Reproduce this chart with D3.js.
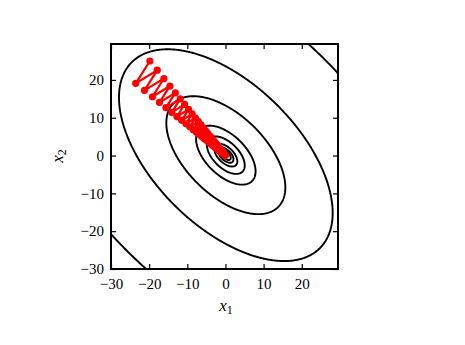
<!DOCTYPE html>
<html>
<head>
<meta charset="utf-8">
<script src="https://cdn.jsdelivr.net/npm/d3@7"></script>
<style>
  body { margin: 0; background: #fff; }
  svg text { font-family: "Liberation Serif", "DejaVu Serif", serif; fill: #000; }
</style>
</head>
<body>
<svg id="chart"></svg>
<script>
// tick labels
const xTicks = [-30, -20, -10, 0, 10, 20];
const yTicks = [-30, -20, -10, 0, 10, 20];
const axisDomain = [-30, 29.5];

// quadratic bowl f(x) = 0.5 * x^T H x and the contour levels drawn
const hessian = [[2.2, 1.2], [1.2, 2.2]];
const levels = [1.3, 3.1, 7, 19, 47, 188, 606, 2230];

// gradient descent iterates
const pathX = [-19.81, -23.52, -17.88, -21.22, -16.13, -19.15, -14.56, -17.29, -13.14, -15.60,
  -11.86, -14.08, -10.71, -12.71, -9.66, -11.47, -8.72, -10.35, -7.87, -9.34,
  -7.10, -8.43, -6.41, -7.60, -5.78, -6.87, -5.22, -6.20, -4.71, -5.59,
  -4.25, -5.04, -3.84, -4.56, -3.47, -4.11, -3.12, -3.71, -2.82, -3.35,
  -2.55, -3.03, -2.30, -2.73, -2.07, -2.46, -1.87, -2.22, -1.69, -2.00,
  -1.52, -1.81, -1.37, -1.63, -1.24, -1.47, -1.12, -1.33, -1.01, -1.20,
  -0.91, -0.93, -0.62, -0.62, -0.37, -0.31, -0.12, 0];
const pathY = [25.01, 19.10, 22.57, 17.23, 20.37, 15.55, 18.38, 14.04, 16.59, 12.66,
  14.97, 11.43, 13.52, 10.32, 12.20, 9.31, 11.01, 8.40, 9.93, 7.59,
  8.97, 6.84, 8.09, 6.17, 7.30, 5.58, 6.59, 5.03, 5.95, 4.54,
  5.37, 4.10, 4.85, 3.70, 4.37, 3.34, 3.94, 3.01, 3.56, 2.72,
  3.21, 2.46, 2.90, 2.22, 2.62, 2.00, 2.36, 1.80, 2.13, 1.63,
  1.92, 1.47, 1.73, 1.32, 1.57, 1.20, 1.41, 1.08, 1.28, 0.98,
  1.15, 0.76, 0.78, 0.50, 0.47, 0.25, 0.16, 0];

const width = 465, height = 345;
const plotLeft = 111, plotRight = 338, plotTop = 44, plotBottom = 269;

const svg = d3.select('#chart')
  .attr('width', width)
  .attr('height', height);

const x = d3.scaleLinear().domain(axisDomain).range([plotLeft, plotRight]);
const y = d3.scaleLinear().domain(axisDomain).range([plotBottom, plotTop]);

svg.append('clipPath')
  .attr('id', 'plot-clip')
  .append('rect')
  .attr('x', plotLeft).attr('y', plotTop)
  .attr('width', plotRight - plotLeft).attr('height', plotBottom - plotTop);

// contour grid, a bit larger than the view so edges stay outside the clip
const g0 = -32, step = 0.2;
const n = Math.round((32 - g0) / step) + 1;
const values = new Float64Array(n * n);
for (let j = 0; j < n; j++) {
  for (let i = 0; i < n; i++) {
    const a = g0 + i * step, b = g0 + j * step;
    values[j * n + i] = 0.5 * (hessian[0][0] * a * a + 2 * hessian[0][1] * a * b + hessian[1][1] * b * b);
  }
}

const contours = d3.contours().size([n, n]).thresholds(levels)(values);

const project = d3.geoTransform({
  point: function (px, py) {
    this.stream.point(x(g0 + px * step), y(g0 + py * step));
  }
});

svg.append('g')
  .attr('clip-path', 'url(#plot-clip)')
  .selectAll('path')
  .data(contours)
  .join('path')
  .attr('d', d3.geoPath(project))
  .attr('fill', 'none')
  .attr('stroke', '#000')
  .attr('stroke-width', 1.9)
  .attr('stroke-linejoin', 'round');

// gradient descent path
const pts = pathX.map((v, i) => [v, pathY[i]]);

const line = d3.line()
  .x(d => x(d[0]))
  .y(d => y(d[1]));

const red = svg.append('g').attr('class', 'descent');
red.append('path')
  .datum(pts)
  .attr('d', line)
  .attr('fill', 'none')
  .attr('stroke', '#ff0000')
  .attr('stroke-width', 2.2);

red.selectAll('circle')
  .data(pts)
  .join('circle')
  .attr('cx', d => x(d[0]))
  .attr('cy', d => y(d[1]))
  .attr('r', 3.6)
  .attr('fill', '#ff0000');

// axes, ticks pointing inwards on all four sides
const tickLen = 5;
function styleAxis(g) {
  g.select('.domain').remove();
  g.selectAll('.tick line').attr('stroke', '#000').attr('stroke-width', 1.2);
  g.selectAll('.tick text').attr('font-size', 15).attr('font-family', '"Liberation Serif", serif');
}

svg.append('g')
  .attr('transform', `translate(0,${plotBottom})`)
  .call(d3.axisBottom(x).tickValues(xTicks).tickSize(-tickLen).tickPadding(9))
  .call(styleAxis);

svg.append('g')
  .attr('transform', `translate(0,${plotTop})`)
  .call(d3.axisTop(x).tickValues(xTicks).tickSize(-tickLen).tickFormat(''))
  .call(styleAxis);

svg.append('g')
  .attr('transform', `translate(${plotLeft},0)`)
  .call(d3.axisLeft(y).tickValues(yTicks).tickSize(-tickLen).tickPadding(7))
  .call(styleAxis);

svg.append('g')
  .attr('transform', `translate(${plotRight},0)`)
  .call(d3.axisRight(y).tickValues(yTicks).tickSize(-tickLen).tickFormat(''))
  .call(styleAxis);

svg.append('rect')
  .attr('x', plotLeft).attr('y', plotTop)
  .attr('width', plotRight - plotLeft).attr('height', plotBottom - plotTop)
  .attr('fill', 'none')
  .attr('stroke', '#000')
  .attr('stroke-width', 2);

// axis labels
const xl = svg.append('text')
  .attr('x', 226).attr('y', 311)
  .attr('text-anchor', 'middle')
  .attr('font-size', 17);
xl.append('tspan').attr('font-style', 'italic').text('x');
xl.append('tspan').attr('font-size', 12).attr('dy', 3).text('1');

const yl = svg.append('text')
  .attr('transform', 'translate(63,156) rotate(-90)')
  .attr('text-anchor', 'middle')
  .attr('font-size', 17);
yl.append('tspan').attr('font-style', 'italic').text('x');
yl.append('tspan').attr('font-size', 12).attr('dy', 3).text('2');
</script>
</body>
</html>
